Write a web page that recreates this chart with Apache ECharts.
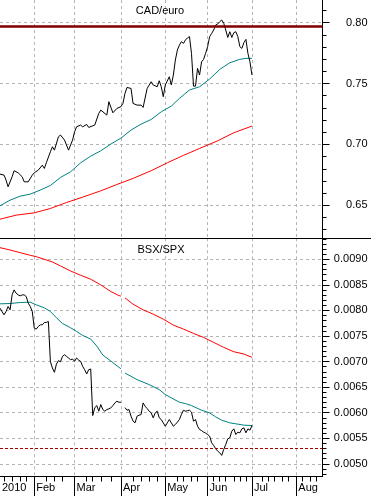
<!DOCTYPE html>
<html><head><meta charset="utf-8">
<script src="https://cdn.jsdelivr.net/npm/echarts@6/dist/echarts.min.js"></script>
<style>html,body{margin:0;padding:0;background:#fff;overflow:hidden}#c{width:371px;height:496px}</style>
</head><body><div id="c"></div>
<script>
// ---- calendar / tick labels ----
const startDate = '2010-01-07';
const dayCount = 161;
const yearLabel = '2010';
const monthAbbr = ['Jan','Feb','Mar','Apr','May','Jun','Jul','Aug','Sep','Oct','Nov','Dec'];
const weekTickDays = [2,6,10,13,23,27,31,43,46,50,55,66,70,74,78,88,91,95,98,106,109,112,116,119,122,130,133,136,140,143,150,154,157];
const topTickValues = {lo:0.65, hi:0.80, step:0.05, minorLo:0.63, minorHi:0.81, minorStep:0.01};
const botTickValues = {lo:0.0050, hi:0.0090, step:0.0005, minorLo:0.0048, minorHi:0.0094, minorStep:0.0001};
const topTitle = 'CAD/euro';
const botTitle = 'BSX/SPX';

// ---- series values: [trading-day index, value] ----
const cadEuro = [[0,0.6756],[2,0.6748],[3,0.6707],[4,0.6652],[6,0.6734],[7,0.6784],[9,0.6767],[11,0.6734],[12,0.6693],[14,0.6693],[16,0.6748],[17,0.6767],[19,0.6789],[21,0.6830],[22,0.6803],[23,0.6850],[25,0.6940],[26,0.6981],[27,0.6953],[29,0.7063],[30,0.7077],[32,0.7036],[34,0.6953],[36,0.7036],[37,0.7104],[38,0.7145],[40,0.7159],[41,0.7145],[43,0.7164],[44,0.7140],[47,0.7159],[49,0.7255],[50,0.7282],[53,0.7241],[54,0.7351],[56,0.7260],[58,0.7296],[60,0.7310],[61,0.7337],[62,0.7419],[63,0.7468],[65,0.7460],[66,0.7337],[68,0.7323],[70,0.7323],[71,0.7304],[73,0.7460],[75,0.7515],[76,0.7488],[78,0.7474],[79,0.7523],[80,0.7474],[81,0.7392],[82,0.7488],[84,0.7556],[85,0.7488],[86,0.7570],[87,0.7693],[88,0.7775],[89,0.7816],[90,0.7844],[91,0.7830],[92,0.7858],[93,0.7875],[94,0.7885],[95,0.7748],[96,0.7479],[97,0.7479],[98,0.7625],[99,0.7570],[100,0.7679],[101,0.7699],[102,0.7748],[103,0.7803],[104,0.7885],[105,0.7912],[106,0.7940],[107,0.7981],[108,0.7989],[109,0.8008],[110,0.8022],[111,0.7995],[112,0.7940],[113,0.7879],[114,0.7926],[115,0.7879],[116,0.7918],[117,0.7926],[118,0.7885],[119,0.7803],[120,0.7789],[121,0.7836],[122,0.7863],[123,0.7748],[124,0.7679],[125,0.7570]];
const cadEuroMA50 = [[0,0.6496],[5,0.6542],[10,0.6575],[15,0.6592],[20,0.6625],[25,0.6663],[30,0.6729],[35,0.6775],[40,0.6849],[45,0.6904],[50,0.6948],[55,0.7003],[60,0.7052],[65,0.7118],[70,0.7167],[75,0.7205],[80,0.7268],[85,0.7315],[89,0.7378],[94,0.7447],[99,0.7474],[104,0.7537],[109,0.7616],[114,0.7671],[119,0.7699],[122,0.7707],[125,0.7707]];
const cadEuroMA200 = [[0,0.6386],[8,0.6419],[17,0.6438],[25,0.6474],[33,0.6523],[41,0.6567],[50,0.6619],[58,0.6671],[66,0.6721],[75,0.6784],[83,0.6849],[91,0.6910],[99,0.6967],[108,0.7030],[116,0.7096],[125,0.7151]];
const cadEuroLevel = 0.7967;

const bsxSpx = [[0,0.008044],[1,0.007979],[2,0.007914],[3,0.007979],[4,0.008077],[5,0.008012],[6,0.008304],[7,0.008402],[8,0.008337],[9,0.008304],[10,0.008285],[11,0.008304],[12,0.008304],[13,0.008272],[14,0.008142],[15,0.008077],[16,0.007979],[17,0.007654],[18,0.007635],[19,0.007687],[20,0.007719],[21,0.007719],[22,0.007765],[23,0.007765],[24,0.007784],[25,0.006997],[26,0.006874],[27,0.006789],[28,0.006950],[29,0.007017],[30,0.006997],[31,0.007101],[32,0.007133],[33,0.007101],[34,0.007069],[35,0.007036],[36,0.007049],[37,0.007004],[38,0.007069],[39,0.007030],[40,0.007004],[41,0.006906],[42,0.006841],[43,0.006757],[44,0.006841],[45,0.006854],[46,0.005944],[47,0.006094],[48,0.006139],[49,0.006029],[50,0.006159],[51,0.006061],[52,0.006029],[53,0.006061],[54,0.006074],[55,0.006094],[56,0.006139],[57,0.006191],[58,0.006224],[59,0.006204],[60,0.006204],[61,null],[62,0.006100],[63,0.006048],[64,0.006061],[65,0.005931],[66,0.005834],[67,0.005801],[68,0.005931],[69,0.005950],[70,0.005964],[71,0.006191],[72,0.006126],[73,0.006080],[74,0.006029],[75,0.005996],[76,0.005899],[77,0.005996],[78,0.006029],[79,0.005899],[80,0.005866],[81,0.005800],[82,0.005736],[83,0.005801],[84,0.005866],[85,0.005801],[86,0.005736],[87,0.005769],[88,0.005815],[89,0.005866],[90,0.005964],[91,0.006048],[92,0.006029],[93,0.006040],[94,0.006048],[95,0.006009],[96,0.005834],[97,0.005866],[98,0.005736],[99,0.005671],[100,0.005650],[101,0.005619],[102,0.005600],[103,0.005573],[104,0.005541],[105,0.005411],[106,0.005359],[107,0.005294],[108,0.005248],[109,0.005216],[110,0.005164],[111,0.005281],[112,0.005378],[113,0.005489],[114,0.005508],[115,0.005638],[116,0.005684],[117,0.005573],[118,0.005619],[119,0.005606],[120,0.005684],[121,0.005703],[122,0.005606],[123,0.005684],[124,0.005658],[125,0.005749]];
const bsxSpxMA50 = [[0,0.008129],[5,0.008135],[10,0.008155],[15,0.008161],[18,0.008109],[22,0.008051],[25,0.007979],[28,0.007856],[31,0.007745],[35,0.007661],[38,0.007589],[41,0.007511],[45,0.007440],[48,0.007303],[51,0.007127],[55,0.007010],[59,0.006887],[60,0.006860],[61,null],[62,0.006776],[68,0.006646],[74,0.006549],[79,0.006451],[82,0.006354],[85,0.006289],[89,0.006204],[92,0.006178],[95,0.006139],[100,0.006048],[104,0.005996],[107,0.005918],[110,0.005853],[114,0.005801],[117,0.005782],[121,0.005756],[125,0.005749]];
const bsxSpxMA200 = [[0,0.009228],[5,0.009182],[10,0.009130],[15,0.009078],[18,0.009052],[22,0.009000],[26,0.008948],[30,0.008870],[35,0.008772],[40,0.008688],[45,0.008610],[50,0.008499],[55,0.008369],[59,0.008291],[60,0.008280],[61,null],[62,0.008246],[66,0.008122],[71,0.008012],[76,0.007927],[81,0.007830],[86,0.007713],[91,0.007635],[96,0.007550],[101,0.007472],[106,0.007375],[111,0.007277],[116,0.007192],[121,0.007147],[125,0.007082]];
const bsxSpxLevel = 0.00531;

// ---- build categories (weekdays) ----
const cats = [];
const monthStart = new Set();
(function(){
  let d = new Date(startDate + 'T00:00:00Z'); let prev = null;
  while (cats.length < dayCount) {
    const wd = d.getUTCDay();
    if (wd !== 0 && wd !== 6) {
      const m = d.getUTCMonth();
      if (prev !== null && m !== prev) monthStart.add(cats.length);
      prev = m;
      cats.push(d.toISOString().slice(0, 10));
    }
    d.setUTCDate(d.getUTCDate() + 1);
  }
})();
const weekSet = new Set(weekTickDays);

// ---- layout ----
const plotW = 322.5;
const panelTop = {top: 0, bottom: 238.3, vHi: 0.80, yHi: 22.7, vLo: 0.65, yLo: 205.3};
const panelBot = {top: 238.3, bottom: 476.5, vHi: 0.0090, yHi: 259.3, vLo: 0.0050, yLo: 463.8};
function scaleOf(p){ const k = (p.yLo - p.yHi) / (p.vHi - p.vLo); return { val: y => p.vHi - (y - p.yHi) / k, pix: v => p.yHi + (p.vHi - v) * k }; }
const sT = scaleOf(panelTop), sB = scaleOf(panelBot);

const gridLine = {color: '#b4b4b4', width: 1, type: [3, 3]};
const FONT = 'Liberation Sans, Arial, sans-serif';

function grid(top, height){ return {left: 0, top: top, width: plotW, height: height, containLabel: false, outerBoundsMode: 'none'}; }
const hiddenX = (gi) => ({type: 'category', gridIndex: gi, data: cats, boundaryGap: false, show: false});

const grids = [
  grid(panelTop.top, panelTop.bottom - panelTop.top),
  grid(sT.pix(topTickValues.hi), sT.pix(topTickValues.lo) - sT.pix(topTickValues.hi)),
  grid(sT.pix(topTickValues.minorHi), sT.pix(topTickValues.minorLo) - sT.pix(topTickValues.minorHi)),
  grid(panelBot.top, panelBot.bottom - panelBot.top),
  grid(sB.pix(botTickValues.hi), sB.pix(botTickValues.lo) - sB.pix(botTickValues.hi)),
  grid(sB.pix(botTickValues.minorHi), sB.pix(botTickValues.minorLo) - sB.pix(botTickValues.minorHi))
];

const xAxes = [
  {type: 'category', gridIndex: 0, data: cats, boundaryGap: false, axisLine: {show: false}, axisTick: {show: false}, axisLabel: {show: false},
   splitLine: {show: true, interval: (i) => monthStart.has(i), lineStyle: gridLine}},
  hiddenX(1), hiddenX(2),
  {type: 'category', gridIndex: 3, data: cats, boundaryGap: false, position: 'bottom',
   axisLine: {show: true, lineStyle: {color: '#000', width: 1}},
   axisTick: {show: true, interval: (i) => monthStart.has(i), length: 20, lineStyle: {color: '#000', width: 1}},
   axisLabel: {show: true, interval: (i) => i === 0 || monthStart.has(i), hideOverlap: false,
     formatter: (v, i) => i === 0 ? yearLabel : monthAbbr[new Date(v + 'T00:00:00Z').getUTCMonth()],
     align: 'left', padding: [0, 0, 0, 2], margin: 6, color: '#000', fontSize: 11, fontFamily: FONT},
   splitLine: {show: true, interval: (i) => monthStart.has(i), lineStyle: gridLine}},
  {type: 'category', gridIndex: 3, data: cats, boundaryGap: false, position: 'bottom', offset: 0,
   axisLine: {show: false}, axisTick: {show: true, interval: (i) => weekSet.has(i), length: 5, lineStyle: {color: '#000', width: 1}},
   axisLabel: {show: false}, splitLine: {show: false}},
  hiddenX(4), hiddenX(5)
];

function dataY(gi, lo, hi){ return {type: 'value', gridIndex: gi, min: lo, max: hi, position: 'right', scale: true,
  axisLine: {show: true, onZero: false, lineStyle: {color: '#000', width: 1}}, axisTick: {show: false}, axisLabel: {show: false}, splitLine: {show: false}}; }
function labelY(gi, t, digits){ return {type: 'value', gridIndex: gi, min: t.lo, max: t.hi, interval: t.step, position: 'right',
  axisLine: {show: false}, axisTick: {show: true, length: 7, lineStyle: {color: '#000', width: 1}},
  axisLabel: {show: true, formatter: v => v.toFixed(digits), align: 'right', margin: 45, color: '#000', fontSize: 11, fontFamily: FONT},
  splitLine: {show: true, lineStyle: gridLine}}; }
function minorY(gi, t){ return {type: 'value', gridIndex: gi, min: t.minorLo, max: t.minorHi, interval: t.minorStep, position: 'right',
  axisLine: {show: false}, axisTick: {show: true, length: 4, lineStyle: {color: '#000', width: 1}}, axisLabel: {show: false}, splitLine: {show: false}}; }

const yAxes = [
  dataY(0, sT.val(panelTop.bottom), sT.val(panelTop.top)),
  labelY(1, topTickValues, 2),
  minorY(2, topTickValues),
  dataY(3, sB.val(panelBot.bottom), sB.val(panelBot.top)),
  labelY(4, botTickValues, 4),
  minorY(5, botTickValues)
];

function line(data, color, xi, yi, extra){ return Object.assign({type: 'line', data: data, xAxisIndex: xi, yAxisIndex: yi, symbol: 'none', showSymbol: false,
  connectNulls: false, silent: true, lineStyle: {color: color, width: 1}, z: 3}, extra || {}); }
function level(v, color, width, type){ return {silent: true, precision: 10, symbol: ['none', 'none'], label: {show: false}, lineStyle: {color: color, width: width, type: type}, data: [{yAxis: v}]}; }

const option = {
  animation: false,
  backgroundColor: '#fff',
  grid: grids,
  xAxis: xAxes,
  yAxis: yAxes,
  series: [
    line(cadEuroMA200, '#ff0000', 0, 0),
    line(cadEuroMA50, '#008080', 0, 0),
    line(cadEuro, '#000000', 0, 0, {markLine: level(cadEuroLevel, '#800000', 2.5, 'solid')}),
    line(bsxSpxMA200, '#ff0000', 3, 3),
    line(bsxSpxMA50, '#008080', 3, 3),
    line(bsxSpx, '#000000', 3, 3, {markLine: level(bsxSpxLevel, '#a00000', 1, [3, 2])})
  ],
  graphic: [
    {type: 'line', z: 100, shape: {x1: 0, y1: 238.5, x2: 371, y2: 238.5}, style: {stroke: '#000', lineWidth: 1}},
    {type: 'text', z: 100, x: 160, y: 11, style: {text: topTitle, fill: '#000', font: '11px ' + FONT, align: 'center', verticalAlign: 'middle'}},
    {type: 'text', z: 100, x: 161, y: 249.5, style: {text: botTitle, fill: '#000', font: '11px ' + FONT, align: 'center', verticalAlign: 'middle'}}
  ]
};
const chart = echarts.init(document.getElementById('c'), null, {renderer: 'canvas'});
chart.setOption(option);
</script>
</body></html>
